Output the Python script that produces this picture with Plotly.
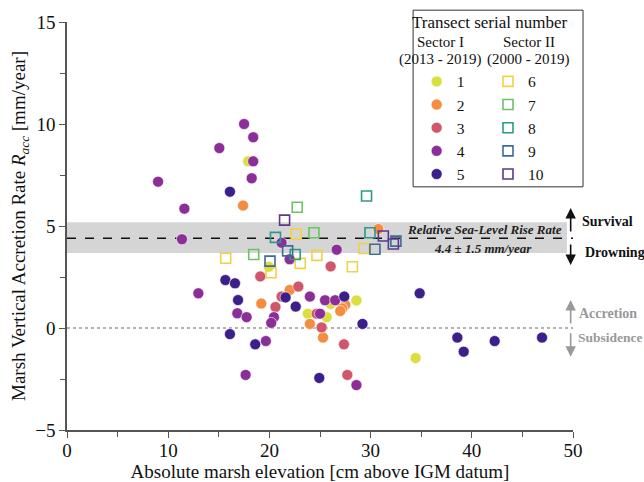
import plotly.graph_objects as go

# ---------------- data ----------------
s1_x = [17.9, 19.95, 23.8, 25.66, 26.05, 28.6, 34.45]
s1_y = [8.17, 3.0, 0.7, 0.53, 1.18, 1.35, -1.47]

s2_x = [17.4, 30.76, 22.0, 19.2, 27.5, 27.2, 27.0, 24.0, 25.3]
s2_y = [6.0, 4.85, 1.86, 1.2, 1.13, 0.96, 0.83, 0.2, -0.47]

s3_x = [26.05, 19.1, 22.86, 21.2, 20.6, 24.67, 25.16, 27.37, 27.7]
s3_y = [3.02, 2.53, 2.03, 1.54, 1.03, 0.7, 0.03, -0.8, -2.3]

s4_x = [17.5, 18.4, 15.05, 18.4, 18.25, 9.0, 11.6, 11.36, 21.2, 26.65, 22.0, 12.98,
        24.0, 25.5, 26.5, 16.83, 17.75, 20.45, 20.18, 25.0, 19.65, 17.65, 28.6]
s4_y = [10.0, 9.35, 8.82, 8.17, 7.34, 7.17, 5.85, 4.35, 4.18, 3.84, 3.37, 1.7,
        1.54, 1.36, 1.36, 0.72, 0.53, 0.53, 0.25, 0.7, -0.64, -2.3, -2.8]

s5_x = [16.1, 15.65, 16.6, 16.9, 21.6, 22.6, 27.4, 29.2, 16.1, 18.6, 34.85, 24.93,
        38.57, 39.2, 42.26, 46.94]
s5_y = [6.68, 2.35, 2.19, 1.37, 1.5, 1.05, 1.54, 0.2, -0.3, -0.8, 1.7, -2.45,
        -0.47, -1.16, -0.64, -0.47]

s6_x = [15.68, 22.65, 24.7, 23.05, 20.16, 28.2, 29.35]
s6_y = [3.42, 4.6, 3.56, 3.17, 2.71, 3.0, 3.9]

s7_x = [22.75, 24.4, 18.45]
s7_y = [5.92, 4.67, 3.6]

s8_x = [29.6, 29.94, 20.6, 22.55]
s8_y = [6.47, 4.67, 4.44, 3.6]

s9_x = [32.5, 30.43, 21.8, 20.06]
s9_y = [4.26, 3.86, 3.78, 3.28]

s10_x = [21.5, 31.26, 32.25]
s10_y = [5.29, 4.51, 4.12]

sector1_names = ["1", "2", "3", "4", "5"]
sector2_names = ["6", "7", "8", "9", "10"]
sector1_colors = ["#d9df3c", "#f58c40", "#d0566b", "#8c2e98", "#3d1f8c"]
sector2_colors = ["#eed24a", "#6cc264", "#2b9a89", "#3e6b96", "#5b378f"]

slr_rate = 4.4
slr_band = [3.68, 5.18]
x_range = [0, 50]
y_range = [-5, 15]

SERIF = "Liberation Serif, Times New Roman, serif"

fig = go.Figure()

# gray band + reference lines
fig.add_shape(type="rect", xref="x", yref="y", x0=0, x1=49.4,
              y0=slr_band[0], y1=slr_band[1], fillcolor="#d5d5d5",
              line=dict(width=0), layer="below")
fig.add_shape(type="line", xref="x", yref="y", x0=0, x1=50, y0=slr_rate, y1=slr_rate,
              line=dict(color="#111111", width=1.3, dash="dash"), layer="below")
fig.add_shape(type="line", xref="x", yref="y", x0=0, x1=50, y0=0, y1=0,
              line=dict(color="#999999", width=1.6, dash="dot"), layer="below")

circ_x = [s1_x, s2_x, s3_x, s4_x, s5_x]
circ_y = [s1_y, s2_y, s3_y, s4_y, s5_y]
sq_x = [s6_x, s7_x, s8_x, s9_x, s10_x]
sq_y = [s6_y, s7_y, s8_y, s9_y, s10_y]

for xs, ys, name, col in zip(circ_x, circ_y, sector1_names, sector1_colors):
    fig.add_trace(go.Scatter(x=xs, y=ys, mode="markers", name=name, legend="legend",
                             marker=dict(symbol="circle", size=11, color=col,
                                         line=dict(color="white", width=0.6))))
for xs, ys, name, col in zip(sq_x, sq_y, sector2_names, sector2_colors):
    fig.add_trace(go.Scatter(x=xs, y=ys, mode="markers", name=name, legend="legend2",
                             marker=dict(symbol="square-open", size=10, color=col,
                                         line=dict(color=col, width=1.6))))

# legend frame and headers
fig.add_shape(type="rect", xref="paper", yref="paper", x0=0.684, x1=1.0198,
              y0=0.596, y1=1.029, line=dict(color="#333333", width=1), fillcolor="rgba(0,0,0,0)")
hdr = [("Transect serial number", 0.836, 1.0, 17),
       ("Sector I", 0.739, 0.951, 15), ("(2013 - 2019)", 0.739, 0.907, 15),
       ("Sector II", 0.913, 0.951, 15), ("(2000 - 2019)", 0.913, 0.907, 15)]
for t, xx, yy, fs in hdr:
    fig.add_annotation(text=t, xref="paper", yref="paper", x=xx, y=yy, showarrow=False,
                       xanchor="center", yanchor="middle",
                       font=dict(family=SERIF, size=fs, color="#111111"))

# SLR annotation texts
fig.add_annotation(text="<b><i>Relative Sea-Level Rise Rate</i></b>", x=41.3, y=4.85,
                   xref="x", yref="y", showarrow=False,
                   font=dict(family=SERIF, size=13, color="#222222"))
fig.add_annotation(text="<b><i>4.4 ± 1.5 mm/year</i></b>", x=41.1, y=3.9,
                   xref="x", yref="y", showarrow=False,
                   font=dict(family=SERIF, size=13, color="#222222"))

# arrows
arrows = [(5.88, 25, "#111111"), (3.09, -22, "#111111"),
          (1.37, 25, "#999999"), (-1.41, -25, "#999999")]
for yy, ay, col in arrows:
    fig.add_annotation(text="", x=49.77, y=yy, xref="x", yref="y", ax=0, ay=ay,
                       showarrow=True, arrowhead=2, arrowsize=1.3, arrowwidth=1.6,
                       arrowcolor=col)
side = [("Survival", 1.0138, 5.21, "#111111", 14), ("Drowning", 1.019, 3.68, "#111111", 14),
        ("Accretion", 1.008, 0.69, "#999999", 14), ("Subsidence", 1.006, -0.48, "#999999", 13.5)]
for t, xx, yy, col, fs in side:
    fig.add_annotation(text="<b>" + t + "</b>", x=xx, y=yy, xref="paper", yref="y",
                       xanchor="left", showarrow=False,
                       font=dict(family=SERIF, size=fs, color=col))

fig.update_layout(
    width=644, height=482,
    margin=dict(l=67, r=71, t=22, b=52),
    paper_bgcolor="white", plot_bgcolor="white",
    font=dict(family=SERIF, color="#111111"),
    showlegend=True,
    legend=dict(x=0.691, y=0.895, xanchor="left", yanchor="top",
                font=dict(family=SERIF, size=15.5, color="#111111"),
                bgcolor="rgba(0,0,0,0)", borderwidth=0, tracegroupgap=0),
    legend2=dict(x=0.832, y=0.895, xanchor="left", yanchor="top",
                 font=dict(family=SERIF, size=15.5, color="#111111"),
                 bgcolor="rgba(0,0,0,0)", borderwidth=0, tracegroupgap=0),
    xaxis=dict(range=x_range, dtick=10, tick0=0, showgrid=False, zeroline=False,
               showline=True, linecolor="#555555", linewidth=1.5,
               ticks="outside", ticklen=6, tickwidth=1.2, tickcolor="#555555",
               minor=dict(dtick=5, ticks="outside", ticklen=5, tickcolor="#555555", tickwidth=1),
               tickfont=dict(family=SERIF, size=19, color="#111111"),
               ticklabelstandoff=-4,
               title=dict(text="Absolute marsh elevation [cm above IGM datum]",
                          font=dict(family=SERIF, size=19, color="#111111"), standoff=0),
               automargin=False),
    yaxis=dict(range=y_range, dtick=5, tick0=0, showgrid=False, zeroline=False,
               showline=True, linecolor="#555555", linewidth=1.5,
               ticks="outside", ticklen=6, tickwidth=1.2, tickcolor="#555555",
               minor=dict(dtick=2.5, ticks="outside", ticklen=5, tickcolor="#555555", tickwidth=1),
               tickfont=dict(family=SERIF, size=19, color="#111111"),
               title=dict(text="Marsh Vertical Accretion Rate <i>R</i><sub><i>acc</i></sub> [mm/year]",
                          font=dict(family=SERIF, size=19, color="#111111"), standoff=5),
               automargin=False),
)

fig.write_html("out.html", config={"displayModeBar": False},
               post_script="document.body.style.margin='0';")
